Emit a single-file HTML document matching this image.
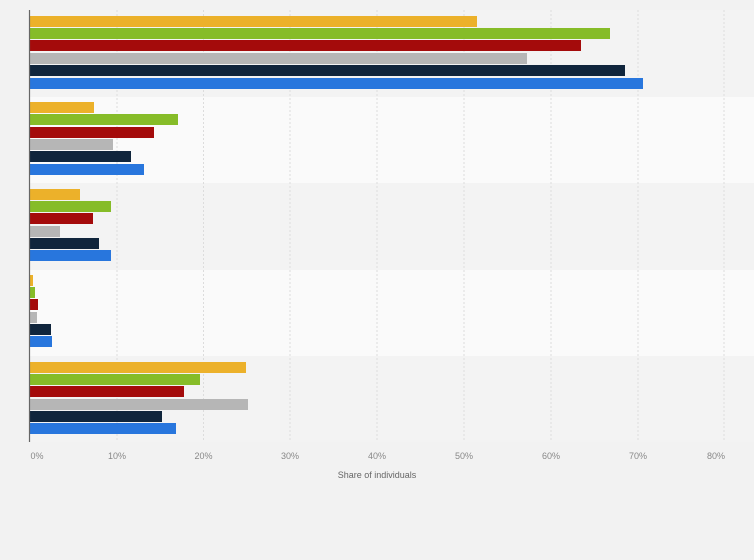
<!DOCTYPE html>
<html><head><style>body{margin:0;background:#f2f2f2}svg{display:block}</style></head><body>
<svg width="754" height="560" xmlns="http://www.w3.org/2000/svg" font-family="Liberation Sans, sans-serif">
<rect width="754" height="560" fill="#f2f2f2"/>
<rect x="30" y="10" width="724" height="87" fill="#f3f3f3"/>
<rect x="30" y="97" width="724" height="86" fill="#fafafa"/>
<rect x="30" y="183" width="724" height="87" fill="#f3f3f3"/>
<rect x="30" y="270" width="724" height="86" fill="#fafafa"/>
<rect x="30" y="356" width="724" height="86" fill="#f3f3f3"/>
<g stroke="#dcdcdc" stroke-dasharray="2,2">
<line x1="117" y1="10" x2="117" y2="442"/><line x1="203.5" y1="10" x2="203.5" y2="442"/><line x1="290" y1="10" x2="290" y2="442"/><line x1="377" y1="10" x2="377" y2="442"/><line x1="464" y1="10" x2="464" y2="442"/><line x1="551" y1="10" x2="551" y2="442"/><line x1="638" y1="10" x2="638" y2="442"/><line x1="724" y1="10" x2="724" y2="442"/>
</g>
<g id="bars">
<rect x="30" y="16" width="447" height="11" fill="#ecb12a"/>
<rect x="30" y="28" width="580" height="11" fill="#86bc28"/>
<rect x="30" y="40" width="551" height="11" fill="#a40b0b"/>
<rect x="30" y="53" width="497" height="11" fill="#b6b6b6"/>
<rect x="30" y="65" width="595" height="11" fill="#10253c"/>
<rect x="30" y="78" width="613" height="11" fill="#2876dd"/>

<rect x="30" y="102" width="64" height="11" fill="#ecb12a"/>
<rect x="30" y="114" width="148" height="11" fill="#86bc28"/>
<rect x="30" y="127" width="124" height="11" fill="#a40b0b"/>
<rect x="30" y="139" width="83" height="11" fill="#b6b6b6"/>
<rect x="30" y="151" width="101" height="11" fill="#10253c"/>
<rect x="30" y="164" width="114" height="11" fill="#2876dd"/>

<rect x="30" y="189" width="50" height="11" fill="#ecb12a"/>
<rect x="30" y="201" width="81" height="11" fill="#86bc28"/>
<rect x="30" y="213" width="63" height="11" fill="#a40b0b"/>
<rect x="30" y="226" width="30" height="11" fill="#b6b6b6"/>
<rect x="30" y="238" width="69" height="11" fill="#10253c"/>
<rect x="30" y="250" width="81" height="11" fill="#2876dd"/>

<rect x="30" y="275" width="3" height="11" fill="#ecb12a"/>
<rect x="30" y="287" width="5" height="11" fill="#86bc28"/>
<rect x="30" y="299" width="8" height="11" fill="#a40b0b"/>
<rect x="30" y="312" width="7" height="11" fill="#b6b6b6"/>
<rect x="30" y="324" width="21" height="11" fill="#10253c"/>
<rect x="30" y="336" width="22" height="11" fill="#2876dd"/>

<rect x="30" y="362" width="216" height="11" fill="#ecb12a"/>
<rect x="30" y="374" width="170" height="11" fill="#86bc28"/>
<rect x="30" y="386" width="154" height="11" fill="#a40b0b"/>
<rect x="30" y="399" width="218" height="11" fill="#b6b6b6"/>
<rect x="30" y="411" width="132" height="11" fill="#10253c"/>
<rect x="30" y="423" width="146" height="11" fill="#2876dd"/>
</g>
<line x1="29.5" y1="10" x2="29.5" y2="442" stroke="#666" stroke-width="1.2"/>
<g font-size="9" fill="#888" text-anchor="middle">
<text x="37" y="459">0%</text><text x="117" y="459">10%</text><text x="203.5" y="459">20%</text><text x="290" y="459">30%</text><text x="377" y="459">40%</text><text x="464" y="459">50%</text><text x="551" y="459">60%</text><text x="638" y="459">70%</text><text x="716" y="459">80%</text>
<text x="377" y="478" fill="#666">Share of individuals</text>
</g>
</svg>
</body></html>
